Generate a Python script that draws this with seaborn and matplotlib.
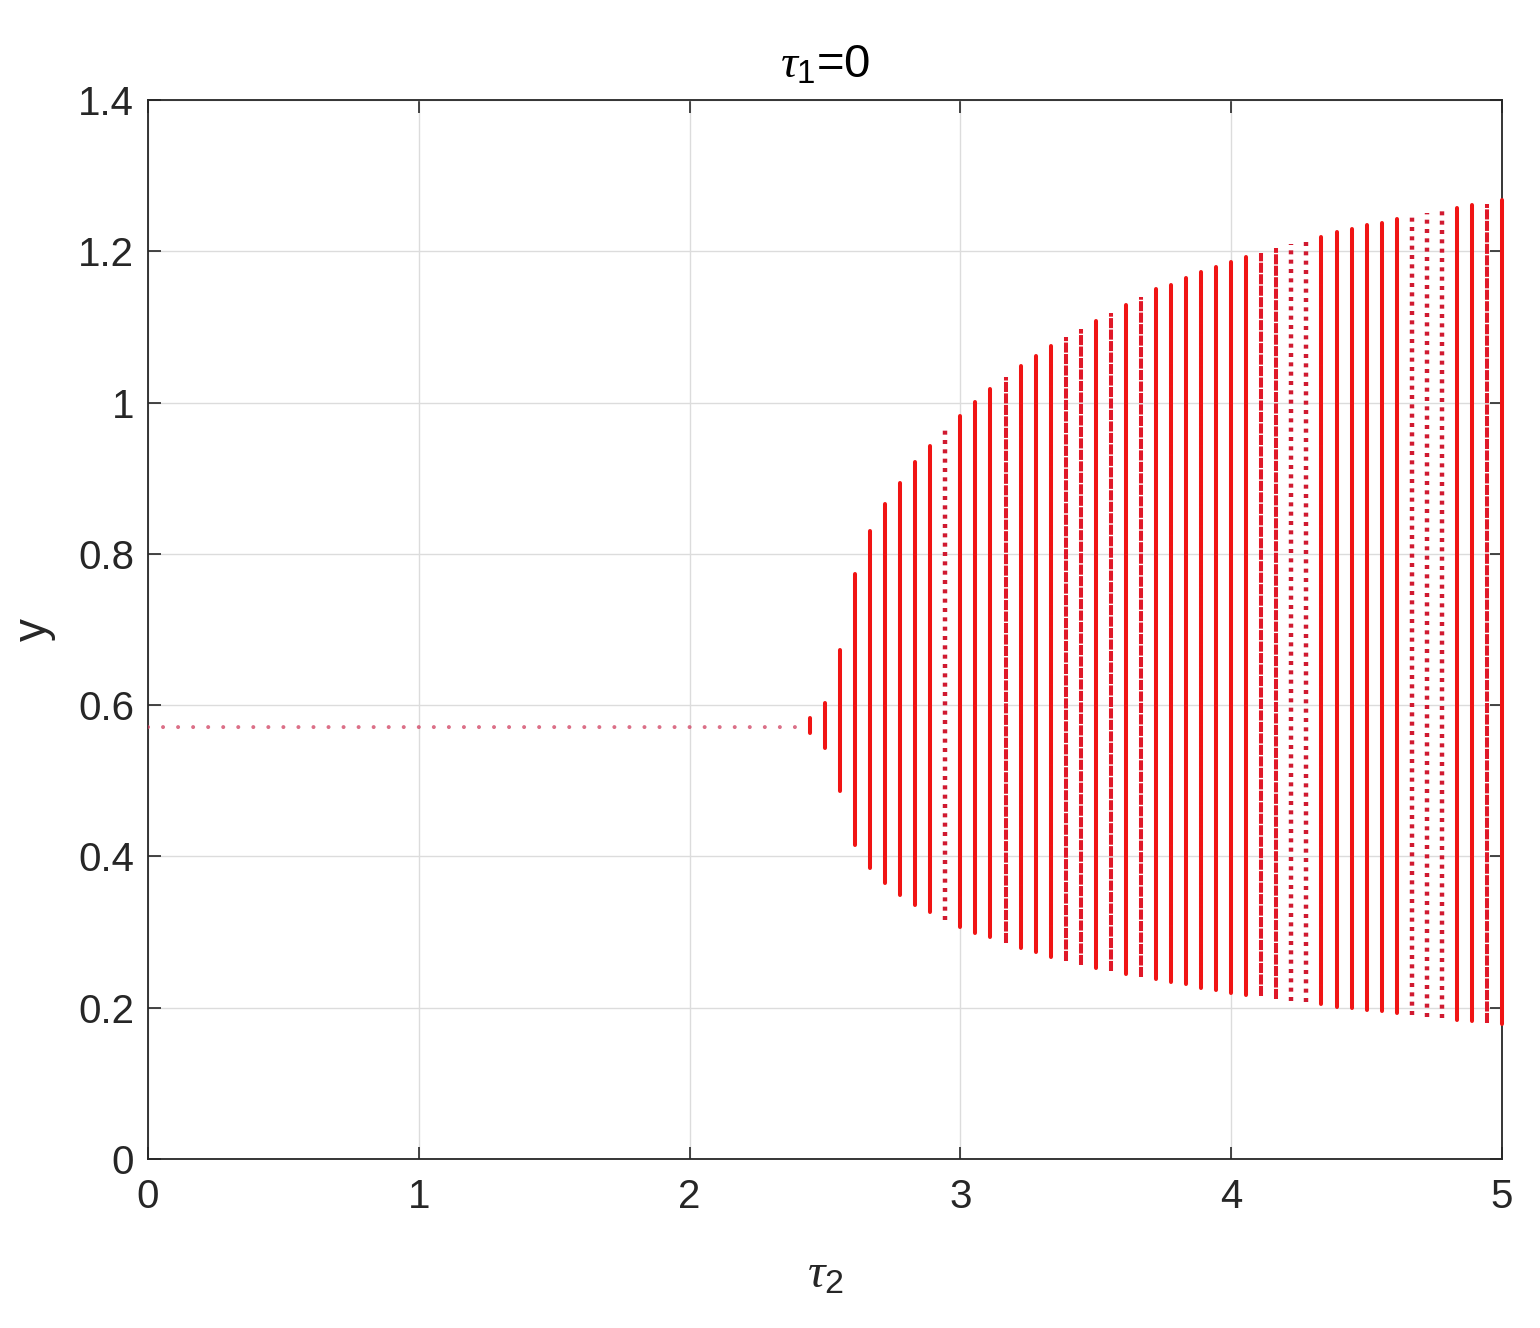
import numpy as np
import pandas as pd
import matplotlib
matplotlib.use("Agg")
import matplotlib.pyplot as plt
import seaborn as sns

# ---------------- data ----------------
# parameter grid tau2 : 91 values, step 1/18, from 0 to 5
tau2 = np.round(np.arange(91) / 18.0, 5)

# stable equilibrium (single value) for tau2 index 0..43
n_stable = 44
y_stable = [0.571] * n_stable

# oscillation envelopes for tau2 index 44..90
y_max = [0.583, 0.603, 0.673, 0.773, 0.830, 0.866, 0.894, 0.921, 0.943, 0.964,
         0.982, 1.001, 1.018, 1.034, 1.048, 1.062, 1.075, 1.087, 1.097, 1.108,
         1.118, 1.129, 1.139, 1.150, 1.156, 1.165, 1.172, 1.179, 1.186, 1.193,
         1.198, 1.204, 1.210, 1.214, 1.219, 1.225, 1.229, 1.235, 1.238, 1.243,
         1.245, 1.250, 1.254, 1.257, 1.261, 1.263, 1.268]
y_min = [0.563, 0.543, 0.486, 0.415, 0.385, 0.365, 0.349, 0.336, 0.326, 0.316,
         0.307, 0.299, 0.293, 0.286, 0.279, 0.273, 0.267, 0.262, 0.257, 0.253,
         0.249, 0.245, 0.241, 0.238, 0.234, 0.231, 0.226, 0.223, 0.220, 0.217,
         0.215, 0.211, 0.209, 0.207, 0.205, 0.201, 0.199, 0.197, 0.195, 0.193,
         0.190, 0.188, 0.186, 0.184, 0.182, 0.180, 0.178]
# how densely the sampled maxima/minima fill each vertical line
sparse_idx = [53, 76, 77, 84, 85, 86]
fine_idx = [57, 61, 62, 64, 66, 74, 75, 89]

x_ticks = [0, 1, 2, 3, 4, 5]
y_ticks = [0, 0.2, 0.4, 0.6, 0.8, 1.0, 1.2, 1.4]
y_ticklabels = ["0", "0.2", "0.4", "0.6", "0.8", "1", "1.2", "1.4"]

# ---------------- tables ----------------
df_stable = pd.DataFrame({"tau2": tau2[:n_stable], "y": y_stable})

rows = []
for k, (lo, hi) in enumerate(zip(y_min, y_max)):
    i = n_stable + k
    kind = "sparse" if i in sparse_idx else ("fine" if i in fine_idx else "solid")
    rows.append({"tau2": tau2[i], "y": lo, "kind": kind})
    rows.append({"tau2": tau2[i], "y": hi, "kind": kind})
df_osc = pd.DataFrame(rows)

# ---------------- figure ----------------
sns.set_theme(style="white")
plt.rcParams["font.family"] = ["Liberation Sans", "DejaVu Sans"]
plt.rcParams["mathtext.fontset"] = "custom"
plt.rcParams["mathtext.it"] = "Liberation Serif:italic"
plt.rcParams["mathtext.rm"] = "Liberation Sans"

fig = plt.figure(figsize=(15.4, 13.28), dpi=100)
ax = fig.add_axes([148 / 1540, 1 - 1159 / 1328, (1502 - 148) / 1540, (1159 - 100) / 1328])

ax.set_xlim(0, 5)
ax.set_ylim(0, 1.4)
ax.set_xticks(x_ticks)
ax.set_yticks(y_ticks)
ax.set_yticklabels(y_ticklabels)
ax.grid(True, color="#dcdcdc", linewidth=1.0)
ax.set_axisbelow(True)

sns.scatterplot(data=df_stable, x="tau2", y="y", ax=ax, marker="o", s=8,
                color="#d04060", edgecolor="none", alpha=0.75, legend=False, zorder=3)

kinds_order = ["solid", "fine", "sparse"]
for kind in kinds_order:
    sub = df_osc[df_osc["kind"] == kind]
    if sub.empty:
        continue
    sns.lineplot(data=sub, x="tau2", y="y", units="tau2", estimator=None, sort=False,
                 ax=ax, color="#f01414", linewidth=2.9, legend=False, zorder=4)

# apply the dot patterns to the drawn segments
lines = ax.get_lines()
line_kinds = []
for kind in kinds_order:
    sub = df_osc[df_osc["kind"] == kind]
    line_kinds += [kind] * sub["tau2"].nunique()
for ln, kind in zip(lines, line_kinds):
    ln.set_clip_on(False)
    if kind == "fine":
        ln.set_linestyle((0, (2.5, 0.35)))
        ln.set_color("#e01828")
    elif kind == "sparse":
        ln.set_linestyle((0, (0.9, 1.2)))
        ln.set_linewidth(3.2)
        ln.set_color("#d01a30")

for sp in ax.spines.values():
    sp.set_visible(True)
    sp.set_color("#262626")
    sp.set_linewidth(1.3)

ax.tick_params(axis="both", which="both", direction="in", length=9, width=1.2,
               colors="#262626", labelsize=29, top=True, right=True,
               bottom=True, left=True)
ax.tick_params(axis="x", pad=14)
ax.tick_params(axis="y", pad=10)

ax.set_xlabel(r"$\tau_{\mathrm{2}}$", fontsize=35, color="#262626", labelpad=26)
ax.set_ylabel("y", fontsize=33, color="#262626", labelpad=16)
ax.set_title(r"$\tau_{\mathrm{1}}$=0", fontsize=34, color="#000000", pad=16)

fig.savefig("out.png", dpi=100, facecolor="white")
